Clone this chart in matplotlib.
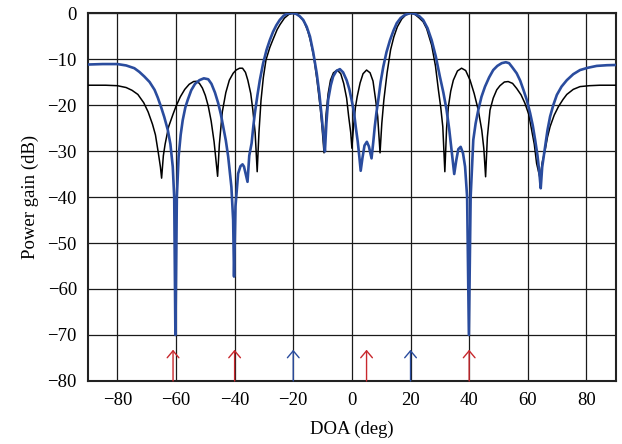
import numpy as np
import matplotlib
matplotlib.use("Agg")
import matplotlib.pyplot as plt

plt.rcParams["font.family"] = ["Liberation Serif", "DejaVu Serif"]

# black curve (conventional pattern)
doa_black = [-90, -84, -80, -77, -75, -73, -71, -69.5, -68, -67, -66, -65.3, -64.9,
             -64.3, -63.7, -62.5, -61, -60, -58.5, -57, -55.5, -54, -53, -52, -51,
             -50, -49, -48, -47, -46.3, -45.8, -45.2, -44.2, -43, -41.8,
             -40.5, -39.5, -38.3, -37.3, -36.3, -35.5, -34.5, -33.8, -33, -32.3,
             -31.7, -31, -30.2, -29.3, -28, -27, -25.5, -24.5, -23, -21.5, -20,
             -18.5, -17, -16.3, -15, -14.2, -13, -11.9, -10.8, -10.2, -9.5, -8.8,
             -8.1, -7.3, -6.3, -5, -3.8, -2.8, -1.8, -1.1, -0.4, 0, 0.5, 1.2, 1.8,
             2.8, 3.8, 5, 6.2, 7.2, 8.1, 8.8, 9.6, 10.2, 10.9, 12, 13.2, 14.3,
             15.5, 17, 18.4, 20, 21.5, 23, 24.3, 25.5, 27.2, 28.5, 29.5, 30.3, 31,
             31.7, 32.3, 32.9, 33.7, 34.6, 36, 37.4, 38.8, 40.3, 41.7, 43.1, 44.3,
             45, 45.6, 46.2, 47.1, 48.2, 49.4, 50.5, 52, 53.3, 54.8, 56.2, 57.7,
             59, 60.3, 61.3, 62.2, 63, 64.2, 64.9, 65.9, 66.7, 67.6, 69, 70.4, 72,
             73.3, 75.5, 77.8, 81, 84.6, 90]
gain_black = [-15.7, -15.7, -15.8, -16.2, -16.8, -17.7, -19.5, -21.5, -24.2, -26.5,
              -30.5, -33.5, -35.9, -31, -28.5, -24.7, -22, -20.3, -18.2, -16.6,
              -15.5, -14.9, -14.85, -15.3, -16.3, -17.9, -20.2, -23.5, -28, -32.5,
              -35.5, -28.5, -21.5, -17.3, -14.6, -13.1, -12.4, -12, -12, -12.9,
              -14.6, -17.5, -21, -26, -34.5, -26, -19, -14, -10.2, -7.5, -5.9,
              -3.6, -2.5, -1.1, -0.3, 0, -0.3, -1.3, -1.9, -4, -5.9, -9.5, -14.6,
              -20.5, -24.7, -30.4, -22, -17.5, -14.6, -13, -12.4, -13.2, -15.3,
              -18.5, -22.5, -26, -29.4, -25, -20.5, -18.2, -15.2, -13.2, -12.4,
              -13, -14.8, -18.9, -22.5, -30.4, -24, -18.9, -13, -8, -5.2, -3, -1.3,
              -0.4, 0, -0.3, -1.1, -1.9, -3.4, -7, -11.5, -16.7, -20.5, -24.7,
              -34.5, -25, -20.4, -17, -14.6, -12.6, -12, -12.5, -14.6, -17.5,
              -21.1, -25.5, -29.5, -35.6, -27, -21.1, -18.5, -16.7, -15.8, -15,
              -14.9, -15.3, -16.4, -17.8, -19.6, -22, -25.4, -28.5, -32.7, -36,
              -32.5, -29.8, -27, -24.7, -22.2, -20.4, -18.8, -17.7, -16.6, -16,
              -15.8, -15.7, -15.7]

# blue curve (adaptive pattern)
doa_blue = [-90, -85, -80, -77, -74.2, -72.5, -70.8, -69, -67.3, -66.2, -65.1, -64,
            -62.8, -61.9, -61.1, -60.6, -60.2, -59.7, -59.1, -58.4, -57.7, -56.8,
            -56, -54.8, -53.5, -52, -50.5, -49, -47.9, -46.7, -45.6, -44.7, -43.9,
            -43, -42.2, -41.1, -40.5, -40.2, -39.7, -38.8, -38, -37.3, -36.8,
            -36.2, -35.6, -35, -34.2, -33.6, -33.1, -32.2, -31.4, -30.3, -29.1,
            -28, -26.9, -25.8, -24.6, -23.3, -22.3, -20.5, -19, -17.8, -16.6,
            -15.4, -14.3, -13.2, -12, -11.1, -10.3, -9.7, -9.2, -8.7, -8.1, -7.2,
            -6.4, -5.3, -4.1, -3, -1.8, -0.9, -0.1, 0.7, 1.3, 2, 2.5, 3, 3.6, 4.3,
            5.1, 5.8, 6.7, 7.3, 7.8, 8.4, 9, 9.8, 10.7, 11.8, 13, 14.2, 15.3, 16.6,
            18.1, 20, 21.5, 23, 24.3, 25.8, 27.2, 28.6, 30, 31.2, 32.3, 33.2, 34,
            34.9, 35.6, 36.3, 37.1, 37.9, 38.6, 39.3, 39.9, 40.5, 41.4, 42.2, 43.1,
            44.2, 45.4, 46.8, 48.2, 49.6, 51.1, 52.5, 53.6, 54.7, 56.2, 57.4, 58.5,
            59.7, 60.8, 61.7, 62.5, 63.3, 63.9, 64.4, 64.9, 65.9, 66.7, 67.6, 68.7,
            69.9, 71.5, 73.3, 75.5, 77.8, 80.5, 83.5, 87, 90]
gain_blue = [-11.2, -11.1, -11.1, -11.4, -12, -12.8, -13.8, -15, -16.7, -18.4, -20.4,
             -22.6, -25.4, -28.5, -33.4, -40, -70, -40, -31.2, -26.5, -23.3, -20.5,
             -18.9, -16.8, -15.4, -14.6, -14.2, -14.4, -15.4, -17.3, -19.6, -22,
             -24.7, -27.7, -31.2, -37.8, -45, -57.3, -42, -34.9, -33.3, -32.9,
             -33.4, -35, -36.7, -31, -28.3, -24.5, -21.8, -17.8, -14.6, -11, -8,
             -5.9, -4.1, -2.7, -1.5, -0.6, -0.2, 0, -0.2, -0.7, -1.5, -3, -5.1,
             -8.5, -13.1, -17.5, -22.5, -26.5, -30.1, -24, -18.9, -15.7, -13.8,
             -12.6, -12.2, -12.9, -14.6, -16.5, -18.9, -21.5, -24.7, -28, -31,
             -34.3, -31.5, -28.8, -28, -29, -31.6, -28, -24.7, -21.5, -18.9, -15,
             -11.7, -8.5, -5.9, -3.8, -2.2, -1.1, -0.4, 0, -0.2, -0.7, -1.5, -3.3,
             -5.9, -9.4, -13.8, -17.3, -21.1, -25.3, -29.8, -35, -32, -29.6, -29.1,
             -30.5, -33.4, -40, -70, -40, -27.6, -24, -21.1, -18.2, -16, -14, -12.4,
             -11.5, -10.9, -10.7, -10.9, -11.8, -13.1, -14.7, -16.7, -19, -21.8,
             -24.5, -27.6, -31, -34.5, -38.1, -33.5, -29.1, -25.5, -22.5, -20,
             -17.8, -16, -14.6, -13.3, -12.4, -11.9, -11.5, -11.35, -11.3]

# arrows marking source directions
interferer_doa = [-61, -40, 5, 40]
signal_doa = [-20, 20]

fig = plt.figure(figsize=(6.22, 4.44), dpi=100)
ax = fig.add_axes([0.1415, 0.1419, 0.8485, 0.8288])

ax.plot(doa_black, gain_black, color="black", lw=1.1, zorder=3)
ax.plot(doa_blue, gain_blue, color="#2a4c9e", lw=1.9, zorder=4)

arrow_style = "->,head_length=0.5,head_width=0.42"
for d in interferer_doa:
    ax.annotate("", xy=(d, -73.2), xytext=(d, -80),
                arrowprops=dict(arrowstyle=arrow_style, color="#c8282d", lw=1.0,
                                shrinkA=0, shrinkB=0), zorder=5)
for d in signal_doa:
    ax.annotate("", xy=(d, -73.2), xytext=(d, -80),
                arrowprops=dict(arrowstyle=arrow_style, color="#2a4c9e", lw=1.0,
                                shrinkA=0, shrinkB=0), zorder=5)

ax.set_xlim(-90, 90)
ax.set_ylim(-80, 0)
ax.set_xticks(np.arange(-80, 81, 20))
ax.set_yticks(np.arange(-80, 1, 10))
ax.grid(True, color="#1a1a1a", lw=0.9)
ax.set_axisbelow(True)
ax.tick_params(length=0, labelsize=13.5, pad=8)
for s in ax.spines.values():
    s.set_linewidth(1.5)
    s.set_color("#222222")

ax.set_xlabel("DOA (deg)", fontsize=13.5, labelpad=8)
ax.set_ylabel("Power gain (dB)", fontsize=13.5, labelpad=6)

fig.savefig("out.png", dpi=100)
